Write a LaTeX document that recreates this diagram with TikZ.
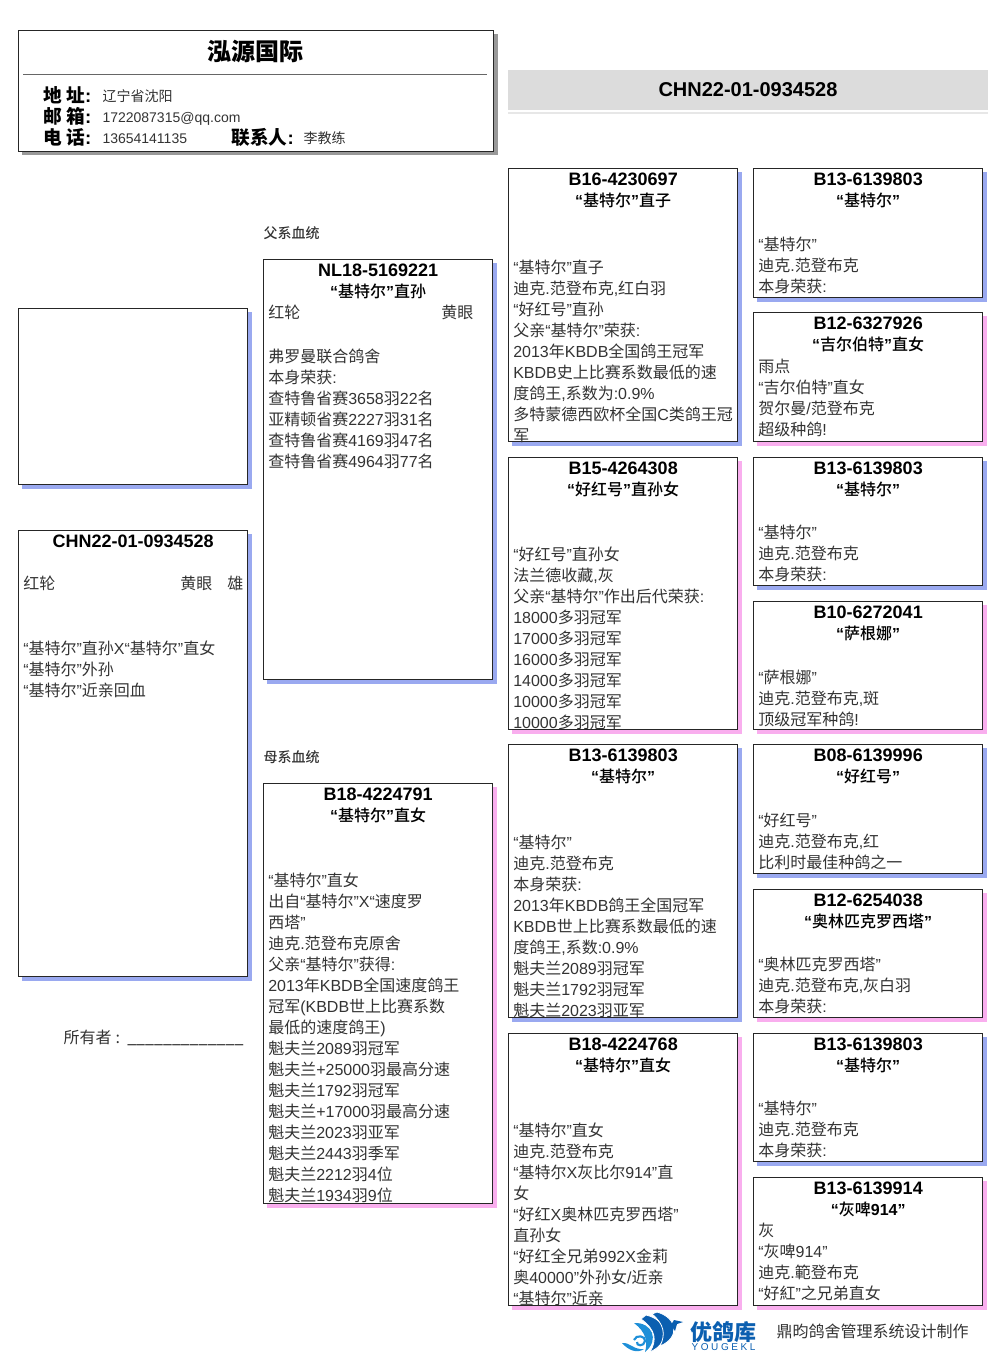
\documentclass[tikz,border=0pt]{standalone}
\usepackage{fontspec}
\usepackage{tikz}
\usetikzlibrary{positioning}
\setmainfont{Liberation Sans}
\newfontfamily\cjk[BoldFont={Noto Sans CJK SC Medium}]{Noto Sans CJK SC}
\newfontfamily\cjkheavy{Noto Sans CJK SC}
\newfontfamily\latinf{Liberation Sans}
\def\cjkcur{\cjk}
% Switch to the CJK family on CJK characters.
\newXeTeXintercharclass\cjkclass
\newcount\cjkcode
\def\cjkrange#1#2{\cjkcode=#1 \loop\XeTeXcharclass\cjkcode=\cjkclass
  \ifnum\cjkcode<#2 \advance\cjkcode by 1 \repeat}
\cjkrange{"3000}{"303F}
\cjkrange{"4E00}{"9FFF}
\cjkrange{"FF00}{"FFEF}
\XeTeXinterchartoks 0 \cjkclass={\cjkcur}
\XeTeXinterchartoks 4095 \cjkclass={\cjkcur}
\XeTeXinterchartoks \cjkclass 0={\latinf}
\XeTeXinterchartokenstate=1
\definecolor{shblue}{HTML}{9AA9F0}
\definecolor{shpink}{HTML}{F9AEEE}
\definecolor{shgray}{HTML}{999999}
\definecolor{band}{HTML}{DCDCDC}
\definecolor{ink}{HTML}{333333}
\definecolor{logoa}{HTML}{0B5FB0}
\definecolor{logob}{HTML}{1E8FD8}

\begin{document}
\begin{tikzpicture}[
    x=0.75pt,y=-0.75pt,
    line width=0.75pt,
    pedbox/.style={
      draw=black!85,
      fill=white,
      inner sep=0pt,
      anchor=north west
    },
    pedid/.style={
      anchor=center,
      inner sep=0pt,
      font=\bfseries\fontsize{13.5}{15.75}\selectfont
    },
    pedname/.style={
      anchor=center,
      inner sep=0pt,
      font=\bfseries\fontsize{12}{15.75}\selectfont
    },
    pedtext/.style={
      anchor=north west,
      inner sep=0pt,
      align=left,
      text=ink,
      font=\fontsize{12}{15.75}\selectfont
    },
    addrlbl/.style={
      anchor=west,
      inner sep=0pt,
      font=\def\cjkcur{\cjkheavy}\bfseries\fontsize{14}{15}\selectfont
    },
    addrval/.style={
      anchor=west,
      inner sep=0pt,
      text=ink,
      font=\fontsize{10.5}{12}\selectfont
    },
    sidelbl/.style={
      anchor=west,
      inner sep=0pt,
      text=ink,
      font=\bfseries\fontsize{10.5}{12}\selectfont
    },
    logoband/.style={
      fill=logoa,
      draw=white,
      line width=0.6pt
    }]
    \useasboundingbox (0,0) rectangle (1006,1366);

    % Helper macro: name, left, top, bottom, shadow, ring, title, body offset, body.
    \def\ped#1#2#3#4#5#6#7#8#9{
      \fill[#5] (#2+4,#3+4) rectangle (#2+234,#4+4.5);
      \node[pedbox,minimum width=172.1pt,minimum height={(#4-#3)*0.75pt}] (#1) at (#2,#3) {};
      \node[pedid,yshift=-8.4pt] (#1id) at (#1.north) {#6};
      \node[pedname,yshift=-24.1pt] (#1name) at (#1.north) {#7};
      \begin{scope}
        \clip (#1.north west) rectangle (#1.south east);
        \node[pedtext,xshift=3.6pt,yshift={-(#8-9)*0.75pt}] (#1text) at (#1.north west)
          {\strut #9};
      \end{scope}
    }

    % Kennel card.
    \fill[shgray] (22,34) rectangle (497.5,155.5);
    \node[pedbox,minimum width=356pt,minimum height=90.75pt] (kennel) at (18,30) {};
    \node[font=\def\cjkcur{\cjkheavy}\bfseries\fontsize{18}{20}\selectfont,inner sep=0pt] (kname) at (255.5,51) {泓源国际};
    \draw[black!60] (23,74.5) coordinate (kl) -- (487,74.5) coordinate (kr);
    \node[addrlbl] (l1) at (43,95) {地 址:};
    \node[addrlbl] (l2) at (43,116) {邮 箱:};
    \node[addrlbl] (l3) at (43,137) {电 话:};
    \node[addrval] (v1) at (102,96) {辽宁省沈阳};
    \node[addrval] (v2) at (102,118.5) {1722087315@qq.com};
    \node[addrval] (v3) at (102,139) {13654141135};
    \node[addrlbl] (l4) at (231,137) {联系人:};
    \node[addrval] (v4) at (303,138) {李教练};

    % Ring number band.
    \node[fill=band,minimum width=360pt,minimum height=30pt,inner sep=0pt,
      font=\bfseries\fontsize{15}{18}\selectfont] (ring) at (748,90) {CHN22-01-0934528};
    \fill[band!70] (508,112) rectangle (988,114);

    % Left column.
    \fill[shblue] (22,312) rectangle (252,488.5);
    \node[pedbox,minimum width=172.1pt,minimum height=132pt] (photo) at (18,308) {};
    \ped{self}{18}{530}{976}{shblue}{CHN22-01-0934528}{}{53}{红轮\hspace{93.75pt}黄眼\hspace{11.25pt}雄\\[33pt]
      “基特尔”直孙X“基特尔”直女\\“基特尔”外孙\\“基特尔”近亲回血}
    \node[anchor=west,inner sep=0pt,text=ink,font=\fontsize{12}{15}\selectfont] (owner) at (63,1038)
      {所有者\hspace{3pt}:\hspace{5.5pt}\textcolor{black}{\_\_\_\_\_\_\_\_\_\_\_\_\_}};

    % Parents.
    \node[sidelbl] (sire) at (263,233) {父系血统};
    \node[sidelbl] (dam) at (263,757) {母系血统};
    \ped{f}{263}{259}{679}{shblue}{NL18-5169221}{“基特尔”直孙}{53}{红轮\hspace{105.75pt}黄眼\\[17.25pt]
      弗罗曼联合鸽舍\\本身荣获:\\查特鲁省赛3658羽22名\\亚精顿省赛2227羽31名\\查特鲁省赛4169羽47名\\查特鲁省赛4964羽77名}
    \ped{m}{263}{783}{1203}{shpink}{B18-4224791}{“基特尔”直女}{97}{“基特尔”直女\\出自“基特尔”X“速度罗\\西塔”\\迪克.范登布克原舍\\父亲“基特尔”获得:\\2013年KBDB全国速度鸽王\\冠军(KBDB世上比赛系数\\最低的速度鸽王)\\魁夫兰2089羽冠军\\魁夫兰+25000羽最高分速\\魁夫兰1792羽冠军\\魁夫兰+17000羽最高分速\\魁夫兰2023羽亚军\\魁夫兰2443羽季军\\魁夫兰2212羽4位\\魁夫兰1934羽9位}

    % Grandparents.
    \ped{ff}{508}{168}{441}{shblue}{B16-4230697}{“基特尔”直子}{99}{“基特尔”直子\\迪克.范登布克,红白羽\\“好红号”直孙\\父亲“基特尔”荣获:\\2013年KBDB全国鸽王冠军\\KBDB史上比赛系数最低的速\\度鸽王,系数为:0.9\%\\多特蒙德西欧杯全国C类鸽王冠\\军}
    \ped{fm}{508}{457}{729}{shpink}{B15-4264308}{“好红号”直孙女}{97}{“好红号”直孙女\\法兰德收藏,灰\\父亲“基特尔”作出后代荣获:\\18000多羽冠军\\17000多羽冠军\\16000多羽冠军\\14000多羽冠军\\10000多羽冠军\\10000多羽冠军}
    \ped{mf}{508}{744}{1017}{shblue}{B13-6139803}{“基特尔”}{98}{“基特尔”\\迪克.范登布克\\本身荣获:\\2013年KBDB鸽王全国冠军\\KBDB世上比赛系数最低的速\\度鸽王,系数:0.9\%\\魁夫兰2089羽冠军\\魁夫兰1792羽冠军\\魁夫兰2023羽亚军}
    \ped{mm}{508}{1033}{1305}{shpink}{B18-4224768}{“基特尔”直女}{97}{“基特尔”直女\\迪克.范登布克\\“基特尔X灰比尔914”直\\女\\“好红X奥林匹克罗西塔”\\直孙女\\“好红全兄弟992X金莉\\奥40000”外孙女/近亲\\“基特尔”近亲}

    % Great-grandparents.
    \ped{fff}{753}{168}{297}{shblue}{B13-6139803}{“基特尔”}{76}{“基特尔”\\迪克.范登布克\\本身荣获:}
    \ped{ffm}{753}{312}{441}{shpink}{B12-6327926}{“吉尔伯特”直女}{54}{雨点\\“吉尔伯特”直女\\贺尔曼/范登布克\\超级种鸽!}
    \ped{fmf}{753}{457}{585}{shblue}{B13-6139803}{“基特尔”}{75}{“基特尔”\\迪克.范登布克\\本身荣获:}
    \ped{fmm}{753}{601}{729}{shpink}{B10-6272041}{“萨根娜”}{76}{“萨根娜”\\迪克.范登布克,斑\\顶级冠军种鸽!}
    \ped{mff}{753}{744}{873}{shblue}{B08-6139996}{“好红号”}{76}{“好红号”\\迪克.范登布克,红\\比利时最佳种鸽之一}
    \ped{mfm}{753}{889}{1017}{shpink}{B12-6254038}{“奥林匹克罗西塔”}{75}{“奥林匹克罗西塔”\\迪克.范登布克,灰白羽\\本身荣获:}
    \ped{mmf}{753}{1033}{1161}{shblue}{B13-6139803}{“基特尔”}{75}{“基特尔”\\迪克.范登布克\\本身荣获:}
    \ped{mmm}{753}{1177}{1305}{shpink}{B13-6139914}{“灰啤914”}{53}{灰\\“灰啤914”\\迪克.範登布克\\“好紅”之兄弟直女}

    % Logo.
    \fill[logob] (634,1323) .. controls (652,1322) and (660,1340) .. (645,1352)
      .. controls (648,1342) and (646,1332) .. (634,1323);
    \filldraw[logoband] (646,1315) .. controls (668,1320) and (672,1342) .. (650,1352)
      .. controls (657,1340) and (656,1330) .. (641,1319) -- cycle;
    \filldraw[logoband] (657,1312) .. controls (678,1318) and (680,1338) .. (660,1346)
      .. controls (666,1334) and (664,1324) .. (652,1314) -- cycle;
    \fill[logoa] (671,1325) -- (674,1320) -- (683,1322) -- (677,1324) -- (675,1331) -- cycle;
    \draw[logob,line width=1.6pt] (634,1340) .. controls (636,1334) and (646,1336) .. (645,1341)
      .. controls (644,1347) and (636,1346) .. (637,1342);
    \fill[logob] (622,1343) .. controls (630,1342) and (633,1350) .. (644,1349)
      .. controls (637,1354) and (628,1350) .. (622,1343);
    \node[inner sep=0pt,text=logoa,font=\def\cjkcur{\cjkheavy}\bfseries\fontsize{16.5}{18}\selectfont] (lname) at (723.5,1332) {优鸽库};
    \node[inner sep=0pt,text=logoa,font=\fontsize{7.5}{8}\selectfont] (llatin) at (723.5,1347) {\addfontfeature{LetterSpace=26}YOUGEKL};
    \node[anchor=west,inner sep=0pt,text=ink,font=\fontsize{12}{15}\selectfont] (credit) at (776,1331) {鼎昀鸽舍管理系统设计制作};
  \end{tikzpicture}
\end{document}
